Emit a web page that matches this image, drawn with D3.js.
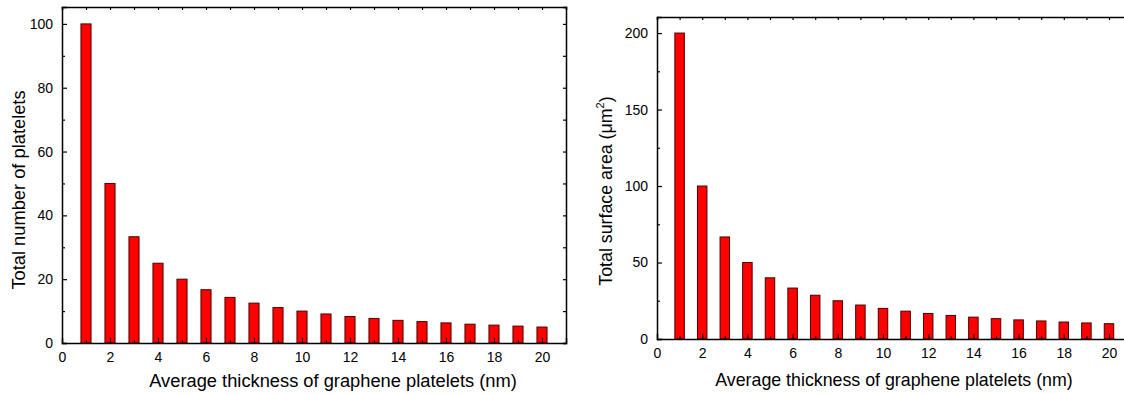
<!DOCTYPE html>
<html>
<head>
<meta charset="utf-8">
<script src="https://cdn.jsdelivr.net/npm/d3@7"></script>
<style>
  body { margin: 0; background: #fff; }
  svg { display: block; font-family: "Liberation Sans", Arial, sans-serif; }
</style>
</head>
<body>
<svg id="chart" width="1124" height="394"></svg>
<script>
// thickness categories (nm)
var thickness = [1, 2, 3, 4, 5, 6, 7, 8, 9, 10, 11, 12, 13, 14, 15, 16, 17, 18, 19, 20];
// left panel: total number of platelets
var plateletCount = [100, 50, 33.3, 25, 20, 16.7, 14.3, 12.5, 11.1, 10, 9.1, 8.3, 7.7, 7.1, 6.7, 6.3, 5.9, 5.6, 5.3, 5];
// right panel: total surface area (um^2)
var surfaceArea = [200, 100, 66.7, 50, 40, 33.3, 28.6, 25, 22.2, 20, 18.2, 16.7, 15.4, 14.3, 13.3, 12.5, 11.8, 11.1, 10.5, 10];

var xTicks = [0, 2, 4, 6, 8, 10, 12, 14, 16, 18, 20];
var leftTicks = [0, 20, 40, 60, 80, 100];
var rightTicks = [0, 50, 100, 150, 200];

var svg = d3.select("#chart");

function panel(opts) {
  var g = svg.append("g");
  var x = d3.scaleLinear().domain([0, 21]).range([opts.x0, opts.x0 + 21 * opts.unit]);
  var y = d3.scaleLinear().domain([0, opts.ymax]).range([opts.y0, opts.ytop]);
  var bw = opts.unit * 0.42;

  // bars
  g.selectAll("rect.bar")
    .data(opts.values)
    .enter().append("rect")
    .attr("class", "bar")
    .attr("x", function(d, i) { return x(thickness[i]) - bw / 2; })
    .attr("y", function(d) { return y(d); })
    .attr("width", bw)
    .attr("height", function(d) { return y(0) - y(d); })
    .attr("fill", "#ff0000")
    .attr("stroke", "#4a0000")
    .attr("stroke-width", 1);

  var minorX = d3.range(1, 21, 2);
  var minorY = opts.minorY;

  // bottom axis
  var bottom = g.append("g").attr("transform", "translate(0," + opts.y0 + ")")
    .call(d3.axisBottom(x).tickValues(xTicks).tickSize(-5).tickPadding(9).tickFormat(d3.format("d")));
  bottom.selectAll(".tick").filter(function(d) { return d === 0; }).select("line").remove();
  g.append("g").attr("transform", "translate(0," + opts.y0 + ")")
    .call(d3.axisBottom(x).tickValues(minorX).tickSize(-3).tickFormat(""))
    .select(".domain").remove();

  // top axis
  g.append("g").attr("transform", "translate(0," + opts.ytop + ")")
    .call(d3.axisTop(x).tickValues(xTicks.concat(minorX)).tickSize(-3).tickFormat(""));

  // left axis
  g.append("g").attr("transform", "translate(" + opts.x0 + ",0)")
    .call(d3.axisLeft(y).tickValues(opts.yTicks).tickSize(-5).tickPadding(9).tickFormat(d3.format("d")));
  g.append("g").attr("transform", "translate(" + opts.x0 + ",0)")
    .call(d3.axisLeft(y).tickValues(minorY).tickSize(-3).tickFormat(""))
    .select(".domain").remove();

  // right axis
  var xr = x(21);
  g.append("g").attr("transform", "translate(" + xr + ",0)")
    .call(d3.axisRight(y).tickValues(opts.yTicks.concat(minorY)).tickSize(-3).tickFormat(""));

  g.selectAll(".domain").attr("stroke", "#000").attr("stroke-width", 1.5);
  g.selectAll(".tick line").attr("stroke", "#000").attr("stroke-width", 1.2);
  g.selectAll(".tick text").attr("font-size", 14).attr("fill", "#000")
    .attr("font-family", "Liberation Sans, Arial, sans-serif");

  // titles
  g.append("text")
    .attr("x", opts.xTitleX).attr("y", opts.xTitleY)
    .attr("text-anchor", "middle").attr("font-size", opts.titleSize)
    .text("Average thickness of graphene platelets (nm)");

  var yt = g.append("text")
    .attr("transform", "translate(" + opts.yTitleX + "," + opts.yTitleY + ") rotate(-90)")
    .attr("text-anchor", "middle").attr("font-size", opts.titleSize);
  yt.text(opts.yTitle);
  if (opts.sup) {
    yt.append("tspan").attr("dy", -8).attr("font-size", 11).text("2");
    yt.append("tspan").attr("dy", 8).text(")");
  }
}

panel({
  values: plateletCount, x0: 62, unit: 24, y0: 343, ytop: 7, ymax: 105.3,
  yTicks: leftTicks, minorY: [10, 30, 50, 70, 90], titleSize: 18.3,
  xTitleX: 333, xTitleY: 387, yTitleX: 25, yTitleY: 190, yTitle: "Total number of platelets"
});

panel({
  values: surfaceArea, x0: 657, unit: 22.6, y0: 339, ytop: 17, ymax: 210.5,
  yTicks: rightTicks, minorY: [25, 75, 125, 175], titleSize: 17.8,
  xTitleX: 894, xTitleY: 386, yTitleX: 612, yTitleY: 191, yTitle: "Total surface area (\u03bcm", sup: true
});
</script>
</body>
</html>
